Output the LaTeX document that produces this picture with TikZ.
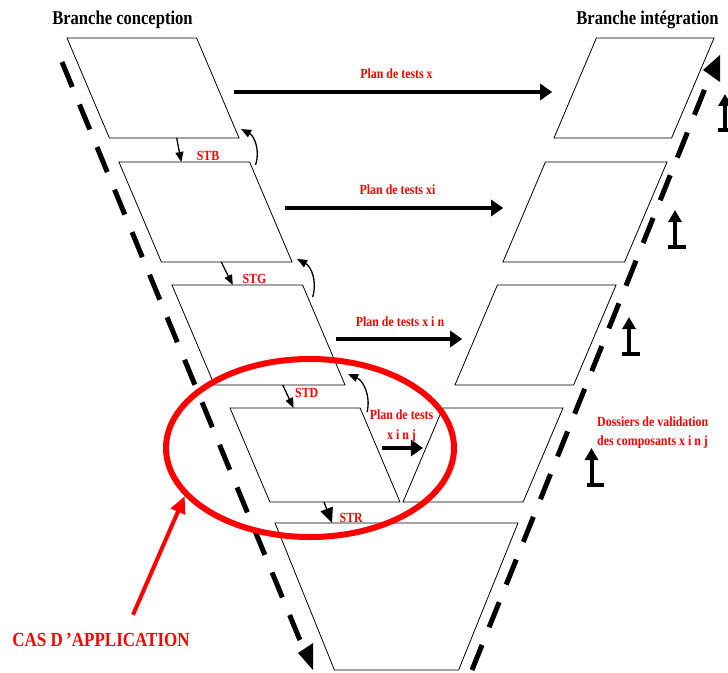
\documentclass[tikz,border=0pt]{standalone}
\usepackage{fontspec}
\setmainfont{Liberation Serif}[FakeStretch=0.85]
\usepackage{tikz}
\usetikzlibrary{arrows.meta,shapes.geometric}

\definecolor{vred}{RGB}{255,0,0}

\begin{document}
\begin{tikzpicture}[x=1bp,y=-1bp,
  conc/.style={draw,trapezium,trapezium left angle=113,trapezium right angle=67,inner ysep=50bp,outer sep=0pt,line width=0.8bp},
  integ/.style={conc,trapezium left angle=67,trapezium right angle=113},
  titre/.style={font=\bfseries\fontsize{19.5bp}{22bp}\selectfont},
  lab/.style={text=vred,font=\bfseries\fontsize{14bp}{19bp}\selectfont,inner sep=1bp},
  branche/.style={line width=5bp,dash pattern=on 27bp off 19bp},
  planarrow/.style={line width=4bp,-{Triangle[length=12bp,width=16bp]}},
  descente/.style={line width=1.3bp,-{Triangle[length=10bp,width=8bp]}},
  remontee/.style={line width=1.3bp,-{Triangle[length=10bp,width=8bp]},bend right=40},
  upmark/.style={line width=4bp,-{Triangle[length=12bp,width=13bp]}},
  foot/.style={line width=4bp},
  casarrow/.style={vred,line width=4bp,-{Triangle[length=17bp,width=15bp]}}]
\useasboundingbox (0,0) rectangle (728,673);

\node[titre] (brConc) at (122.5,20) {Branche conception};
\node[titre] (brInteg) at (647.5,20) {Branche intégration};

\node[conc,inner xsep=43.6bp] (P1) at (153,88) {};
\node[conc,inner xsep=44.1bp] (P2) at (205.5,212) {};
\node[conc,inner xsep=44.1bp] (P3) at (258.5,335) {};
\node[conc,inner xsep=45.1bp,inner ysep=47bp] (P4) at (315,455) {};
\node[conc,trapezium left angle=112,trapezium right angle=112,inner xsep=62.1bp,inner ysep=73.5bp] (P5) at (396.5,596.5) {};

\node[integ,inner xsep=37.6bp] (R1) at (634,88) {};
\node[integ,inner xsep=39.6bp] (R2) at (585,212) {};
\node[integ,inner xsep=38.1bp] (R3) at (535.5,335) {};
\node[integ,inner xsep=40.1bp,inner ysep=47bp] (R4) at (483,455) {};

\coordinate (concTop) at (62,62);
\coordinate (concEnd) at (304,650);
\coordinate (integStart) at (472,670);
\coordinate (integEnd) at (710,76);
\draw[branche] (concTop) -- (concEnd);
\fill (concEnd) ++(-6,3) -- ++(15,-10) -- ++(0,27) -- cycle;
\draw[branche] (integStart) -- (integEnd);
\fill (integEnd) ++(-7,-6) -- ++(17,-15) -- ++(0,27) -- cycle;

\draw[planarrow,shorten <=16bp,shorten >=23bp] ([yshift=-4bp]P1.east) -- ([yshift=-4bp]R1.west) node[lab,midway,above=10bp] {Plan de tests x};
\draw[planarrow,shorten <=14bp,shorten >=21bp] ([yshift=4bp]P2.east) -- ([yshift=4bp]R2.west) node[lab,midway,above=10bp] {Plan de tests xi};
\draw[planarrow,shorten <=12bp,shorten >=14bp] ([yshift=-4bp]P3.east) -- ([yshift=-4bp]R3.west) node[lab,midway,above=9bp] {Plan de tests x i n};
\draw[planarrow,shorten <=2bp] ([yshift=7bp]P4.east) -- ([yshift=7bp]R4.west) node[lab,midway,above=3bp,align=center,font=\bfseries\fontsize{14bp}{20bp}\selectfont] {Plan de tests\\x i n j};

\draw[descente] ([xshift=2.5bp]P1.bottom side) -- ([xshift=-3bp]P2.top side) node[lab,near end,right=15bp] {STB};
\draw[descente] ([xshift=-5.5bp]P2.bottom side) -- ([xshift=-4.5bp]P3.top side) node[lab,near end,right=11bp] {STG};
\draw[descente] ([xshift=3bp]P3.bottom side) -- ([xshift=-1.5bp]P4.top side) node[lab,pos=0.35,right=7bp] {STD};
\draw[descente,-{Triangle[length=15bp,width=13bp]}] ([xshift=-11bp]P4.bottom side) -- ([xshift=-64.5bp]P5.top side) node[lab,near end,right=8bp] {STR};

\draw[remontee] ([shift={(6,3)}]P2.top right corner) to ([shift={(2,-9)}]P1.bottom right corner);
\draw[remontee] ([shift={(10,12)}]P3.top right corner) to ([shift={(5,-3)}]P2.bottom right corner);
\draw[remontee] ([shift={(7,4)}]P4.top right corner) to ([shift={(3,-11)}]P3.bottom right corner);

\draw[upmark] (725,130) -- (725,94);
\draw[foot] (718,130) -- (736,130);
\draw[upmark] (675,247) -- (675,210);
\draw[foot] (668,247) -- (686,247);
\draw[upmark] (629,354) -- (629,317);
\draw[foot] (622,354) -- (640,354);
\draw[upmark] (591.5,485) -- (591.5,448);
\draw[foot] (587,485) -- (604,485);

\node[lab,anchor=west,align=left] (dossiers) at (596,433) {Dossiers de validation\\des composants x i n j};

\node[draw=vred,line width=6bp,ellipse,minimum width=288bp,minimum height=178bp,inner sep=0pt] (casApp) at (310,448) {};
\node[text=vred,font=\bfseries\fontsize{20bp}{22bp}\selectfont] (casLabel) at (101,640) {CAS D\,’APPLICATION};
\draw[casarrow] ([shift={(32,-15)}]casLabel.north) -- (casApp.201);
\end{tikzpicture}
\end{document}
